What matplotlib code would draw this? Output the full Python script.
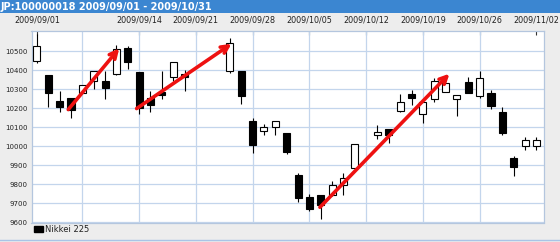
import numpy as np
import matplotlib.pyplot as plt
from matplotlib.patches import Rectangle
from matplotlib.lines import Line2D

title = 'JP:100000018 2009/09/01 - 2009/10/31'
series_name = 'Nikkei 225'

dates = ['2009-09-01', '2009-09-02', '2009-09-03', '2009-09-04', '2009-09-07',
         '2009-09-08', '2009-09-09', '2009-09-10', '2009-09-11', '2009-09-14',
         '2009-09-15', '2009-09-16', '2009-09-17', '2009-09-18', '2009-09-24',
         '2009-09-25', '2009-09-28', '2009-09-29', '2009-09-30', '2009-10-01',
         '2009-10-02', '2009-10-05', '2009-10-06', '2009-10-07', '2009-10-08',
         '2009-10-09', '2009-10-13', '2009-10-14', '2009-10-15', '2009-10-16',
         '2009-10-19', '2009-10-20', '2009-10-21', '2009-10-22', '2009-10-23',
         '2009-10-26', '2009-10-27', '2009-10-28', '2009-10-29', '2009-10-30',
         '2009-11-02']
opens = [10447, 10374, 10237, 10254, 10279, 10342, 10342, 10380, 10518, 10391,
         10254, 10286, 10363, 10377, 10395, 10395, 10132, 10079, 10100, 10068,
         9851, 9733, 9742, 9742, 9795, 9886, 10058, 10093, 10184, 10275,
         10170, 10250, 10286, 10246, 10337, 10263, 10281, 10181, 9939, 10000,
         10000]
highs = [10591, 10374, 10289, 10254, 10321, 10395, 10395, 10530, 10526, 10391,
         10289, 10395, 10444, 10398, 10570, 10395, 10149, 10118, 10132, 10072,
         9860, 9751, 9742, 9816, 9860, 10014, 10114, 10093, 10272, 10293,
         10233, 10360, 10333, 10267, 10363, 10395, 10293, 10205, 9947, 10047,
         10047]
lows = [10439, 10207, 10181, 10146, 10279, 10298, 10246, 10375, 10404, 10167,
        10181, 10246, 10342, 10289, 10384, 10223, 9965, 10058, 10061, 9962,
        9710, 9658, 9619, 9737, 9742, 9886, 10039, 10018, 10180, 10219,
        10123, 10235, 10286, 10158, 10277, 10251, 10198, 10058, 9842, 9982,
        9982]
closes = [10526, 10277, 10207, 10188, 10321, 10395, 10307, 10510, 10442, 10202,
          10216, 10268, 10444, 10363, 10544, 10263, 10009, 10102, 10132, 9972,
          9728, 9670, 9693, 9798, 9833, 10014, 10074, 10061, 10233, 10254,
          10233, 10340, 10333, 10267, 10277, 10356, 10209, 10070, 9889, 10032,
          10032]

label_dates = ['2009-09-01', '2009-09-14', '2009-09-21', '2009-09-28', '2009-10-05',
               '2009-10-12', '2009-10-19', '2009-10-26', '2009-11-02']
grid_dates = ['2009-09-07', '2009-09-14', '2009-09-21', '2009-09-28', '2009-10-05',
              '2009-10-12', '2009-10-19', '2009-10-26']
y_ticks = [9600, 9700, 9800, 9900, 10000, 10100, 10200, 10300, 10400, 10500]

# red trend arrows: (weekday index, price) start -> end
arrow_x0 = [2.76, 8.78, 24.93]
arrow_y0 = [10193, 10198, 9680]
arrow_x1 = [7.25, 17.14, 36.34]
arrow_y1 = [10514, 10538, 10381]

start = '2009-09-01'


def day_index(d):
    # every weekday gets a slot, holidays leave gaps
    return np.busday_count(start, d)


def main():
    W, H = 560, 242
    fig = plt.figure(figsize=(W / 100, H / 100), dpi=100, facecolor='#ededed')

    # title bar
    fig.add_artist(Rectangle((0, 1 - 13 / H), 1, 13 / H, transform=fig.transFigure,
                             facecolor='#3b86d1', edgecolor='none'))
    fig.text(1 / W, 1 - 7 / H, title, color='white', fontsize=7, fontweight='bold',
             va='center', ha='left')
    fig.add_artist(Line2D([0, 1], [1 - 240 / H] * 2, transform=fig.transFigure,
                          color='#a9c4e6', lw=1))

    left, right, top, bottom = 31.5, 544, 31, 222.5
    ax = fig.add_axes([left / W, 1 - bottom / H, (right - left) / W, (bottom - top) / H])
    ax.set_facecolor('white')

    x = np.array([day_index(d) for d in dates])
    o = np.array(opens)
    h = np.array(highs)
    l = np.array(lows)
    c = np.array(closes)

    up = c >= o
    ax.vlines(x, l, h, color='black', lw=0.8, zorder=3)
    body_lo = np.minimum(o, c)
    body_h = np.maximum(np.abs(c - o), 3)
    ax.bar(x, body_h, bottom=body_lo, width=0.62,
           color=np.where(up, 'white', 'black'), edgecolor='black', lw=0.8, zorder=4)

    for a, b, cc, d in zip(arrow_x0, arrow_y0, arrow_x1, arrow_y1):
        ax.annotate('', xy=(cc, d), xytext=(a, b),
                    arrowprops=dict(arrowstyle='->', color='#ee1111', lw=2.6,
                                    mutation_scale=13, shrinkA=0, shrinkB=0),
                    zorder=6)

    for g in grid_dates:
        ax.axvline(day_index(g), color='#c3d5ec', lw=0.9, zorder=1)
    ax.set_yticks(y_ticks)
    ax.grid(axis='y', color='#c3d5ec', lw=0.9, zorder=1)
    ax.set_axisbelow(True)

    ax.set_xlim(-0.48, 44.67)
    ax.set_ylim(9600, 10605)

    ax.xaxis.tick_top()
    ax.set_xticks([day_index(d) for d in label_dates])
    ax.set_xticklabels([d.replace('-', '/') for d in label_dates], fontsize=5.8,
                       color='#222222')
    ax.tick_params(axis='x', direction='in', length=3, width=0.8, color='#333333', pad=5)
    ax.tick_params(axis='y', length=0, pad=2.8, labelsize=5, labelcolor='#222222')

    for s in ax.spines.values():
        s.set_color('#b4c6de')
        s.set_linewidth(0.9)

    # legend
    fig.add_artist(Rectangle((34 / W, 1 - 232 / H), 9 / W, 6 / H, transform=fig.transFigure,
                             facecolor='black', edgecolor='black'))
    fig.text(45 / W, 1 - 229.5 / H, series_name, fontsize=6, va='center', ha='left',
             color='#222222')

    fig.savefig('out.png', dpi=100, facecolor=fig.get_facecolor())


if __name__ == '__main__':
    main()
